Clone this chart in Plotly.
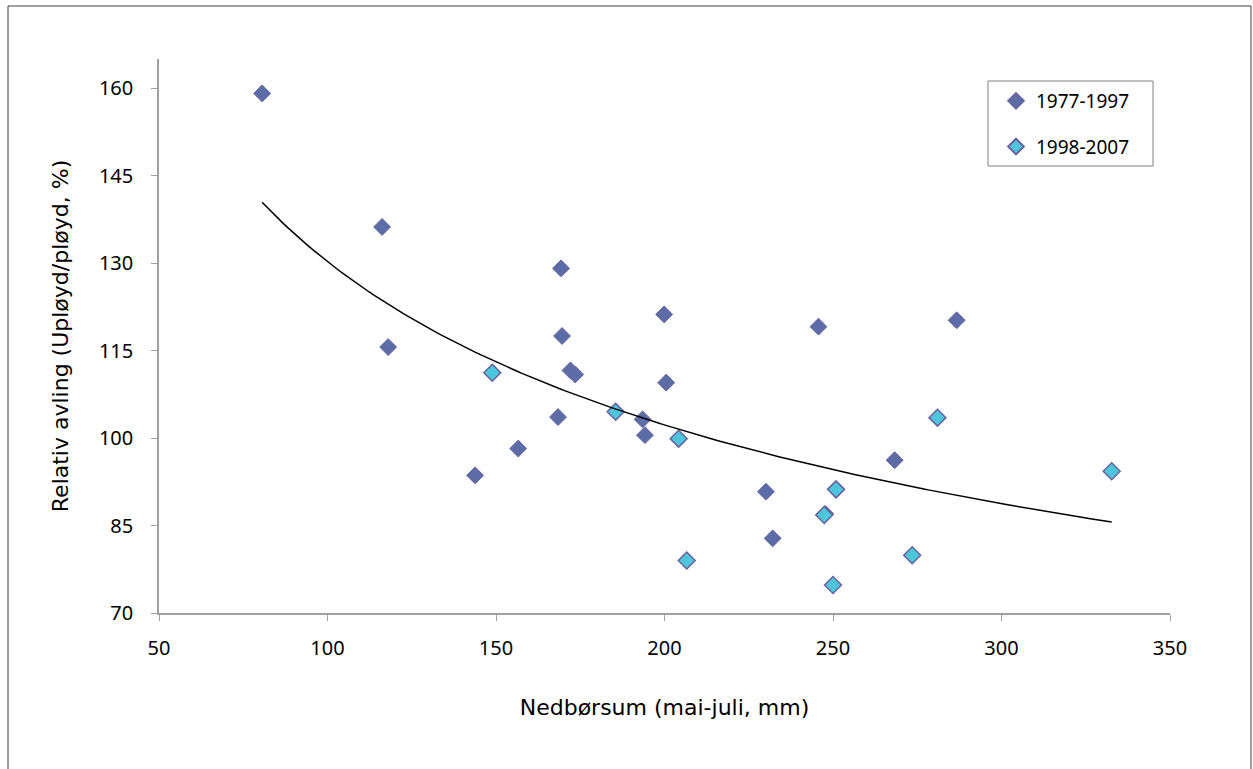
import numpy as np
import plotly.graph_objects as go

# 1977-1997 series
x_old = [80.6, 116.2, 118.0, 143.8, 156.6, 168.4, 169.3, 169.6, 172.1, 173.5,
         193.5, 194.2, 199.9, 200.5, 230.1, 232.1, 245.7, 247.7, 268.3, 286.7]
y_old = [159.1, 136.2, 115.6, 93.6, 98.2, 103.6, 129.1, 117.5, 111.6, 110.9,
         103.2, 100.5, 121.2, 109.5, 90.8, 82.8, 119.1, 87.0, 96.2, 120.2]
# 1998-2007 series
x_new = [148.9, 185.5, 204.2, 206.6, 247.4, 250.9, 250.0, 273.5, 281.0, 332.7]
y_new = [111.2, 104.5, 99.9, 79.0, 86.8, 91.2, 74.8, 79.9, 103.5, 94.3]

# power trendline fitted to all data
xa = np.array(x_old + x_new)
ya = np.array(y_old + y_new)
b, lna = np.polyfit(np.log(xa), np.log(ya), 1)
xt = np.linspace(xa.min(), xa.max(), 200)
yt = np.exp(lna) * xt ** b

W, H = 1253, 769
L, R, T, B = 159, 83, 59, 156
pw, ph = W - L - R, H - T - B


def px(xp):
    return (xp - L) / pw


def py(yp):
    return (H - B - yp) / ph


fig = go.Figure()
fig.add_trace(go.Scatter(x=x_old, y=y_old, mode="markers", name="1977-1997",
                         legendgroup="a",
                         marker=dict(symbol="diamond", size=13, color="#5B6CA6",
                                     line=dict(color="#6A66A3", width=1))))
fig.add_trace(go.Scatter(x=x_new, y=y_new, mode="markers", name="1998-2007",
                         legendgroup="b",
                         marker=dict(symbol="diamond", size=13, color="#4DC6DB",
                                     line=dict(color="#6A60A0", width=1.5))))
fig.add_trace(go.Scatter(x=xt, y=yt, mode="lines", showlegend=False,
                         line=dict(color="black", width=1.5), hoverinfo="skip"))

fig.update_layout(
    width=W, height=H,
    margin=dict(l=L, r=R, t=T, b=B),
    paper_bgcolor="white", plot_bgcolor="white",
    font=dict(family="Noto Sans, DejaVu Sans, sans-serif", color="black", size=20),
    xaxis=dict(range=[50, 350], tickvals=[50, 100, 150, 200, 250, 300, 350],
               showgrid=False, zeroline=False, showline=True, linecolor="#A0A0A0",
               linewidth=1.5, ticks="outside", ticklen=6, tickcolor="#A0A0A0",
               tickfont=dict(size=20), ticklabelstandoff=10,
               title=dict(text="Nedbørsum (mai-juli, mm)", standoff=40,
                          font=dict(family="DejaVu Sans, sans-serif", size=22))),
    yaxis=dict(range=[70, 165], tickvals=[70, 85, 100, 115, 130, 145, 160],
               showgrid=False, zeroline=False, showline=True, linecolor="#A0A0A0",
               linewidth=1.5, ticks="outside", ticklen=6, tickcolor="#A0A0A0",
               tickfont=dict(size=20), ticklabelstandoff=14,
               title=dict(text="Relativ avling (Upløyd/pløyd, %)", standoff=24,
                          font=dict(family="DejaVu Sans, sans-serif", size=22))),
    legend=dict(x=px(996), y=py(82), xanchor="left", yanchor="top",
                borderwidth=0, bgcolor="rgba(0,0,0,0)",
                font=dict(size=19), itemsizing="constant", tracegroupgap=18),
    shapes=[
        dict(type="rect", xref="paper", yref="paper",
             x0=px(8), x1=px(1251), y0=-0.35, y1=py(6),
             line=dict(color="#404040", width=1), fillcolor="rgba(0,0,0,0)"),
        dict(type="rect", xref="paper", yref="paper",
             x0=px(988), x1=px(1153), y0=py(166), y1=py(81),
             line=dict(color="#808080", width=1), fillcolor="rgba(0,0,0,0)"),
    ],
)

fig.write_html("out.html")
